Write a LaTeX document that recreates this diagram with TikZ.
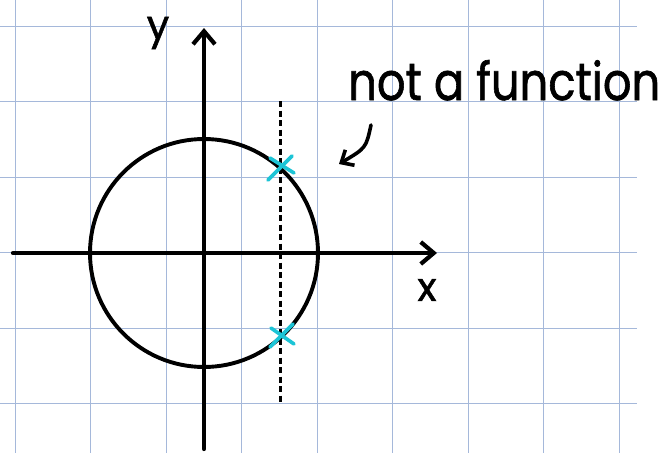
\documentclass[tikz,border=0pt]{standalone}
\usepackage{fontspec}
\usepackage{graphicx}
\newfontfamily\hand{Poppins}[BoldFont=Poppins,BoldFeatures={FakeBold=1.3}]
\usetikzlibrary{arrows.meta,calc}
\definecolor{gridblue}{RGB}{165,184,218}
\definecolor{markcyan}{RGB}{28,196,214}
\begin{document}
\begin{tikzpicture}[x=1pt,y=-1pt,
  gridline/.style={draw=gridblue,line width=1pt},
  axisline/.style={line width=4.2pt,line cap=round,-{Straight Barb[length=13pt,width=22pt,line width=4.2pt]}},
  curveline/.style={line width=3.6pt,line cap=round,-{Straight Barb[length=10pt,width=18pt,line width=3.6pt]}},
  marker/.style={draw=markcyan,line width=3.6pt,line cap=round},
  handtext/.style={inner sep=0pt,font=\hand\bfseries}]
\useasboundingbox (0,0) rectangle (667,453);
\fill[white] (0,0) rectangle (667,453);
% grid
\foreach \k in {0,...,8}{
  \draw[gridline] ({15+75.5*\k},0) -- ({15+75.5*\k},453);
}
\foreach \k in {0,...,5}{
  \draw[gridline] (0,{26+75.5*\k}) -- (637,{26+75.5*\k});
}
% circle
\node[draw,circle,line width=3.9pt,minimum size=228pt,inner sep=0pt] (circ) at (204,253) {};
% axes
\coordinate (xs) at (13,253);
\coordinate (xe) at (437,253);
\coordinate (ys) at (204,449);
\coordinate (ye) at (204,28);
\draw[axisline] (xs) -- (xe);
\draw[axisline] (ys) -- (ye);
% dashed vertical line
\coordinate (dt) at (280,101);
\coordinate (db) at (280,404);
\draw[line width=3pt,dash pattern=on 6pt off 3.5pt] (dt) -- (db);
% crosses
\coordinate (c1) at (281,167);
\coordinate (c2) at (281,336);
\draw[marker] ($(c1)+(-13,13)$) -- ($(c1)+(11,-11)$);
\draw[marker] ($(c1)+(-11,-9)$) -- ($(c1)+(13,6)$);
\draw[marker] ($(c2)+(-11,11)$) -- ($(c2)+(12,-12)$);
\draw[marker] ($(c2)+(-10,-8)$) -- ($(c2)+(13,8)$);
% labels
\node[handtext,anchor=base west] (lbl) at (348,100) {\resizebox{312pt}{40pt}{not a function}};
\node[handtext,font=\hand\bfseries\fontsize{40}{40}\selectfont] (ylab) at (158,33) {y};
\node[handtext,font=\hand\bfseries\fontsize{40}{40}\selectfont] (xlab) at (427,290) {x};
% curved arrow
\coordinate (as) at (371,125);
\coordinate (ae) at (339,164);
\draw[curveline] (as) .. controls (366,148) .. (ae);
\end{tikzpicture}
\end{document}
